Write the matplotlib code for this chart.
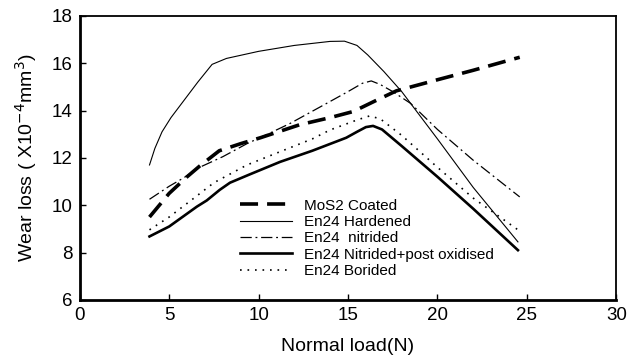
import matplotlib.pyplot as plt

plt.rcParams['font.family'] = ['Liberation Sans', 'DejaVu Sans']

# Data
x_mos2 = [3.9, 5.0, 6.0, 6.7, 7.8, 9.0, 10.1, 12.3, 14.0, 15.3, 16.5, 17.7, 20, 22, 24.6]
y_mos2 = [9.5, 10.5, 11.2, 11.65, 12.3, 12.6, 12.85, 13.4, 13.7, 13.96, 14.4, 14.83, 15.3, 15.7, 16.25]

x_hard = [3.9, 4.2, 4.6, 5.1, 5.8, 6.6, 7.4, 8.2, 10, 12, 14, 14.8, 15.5, 16.1, 17, 18, 20, 22, 24.5]
y_hard = [11.7, 12.4, 13.1, 13.7, 14.4, 15.2, 15.95, 16.2, 16.5, 16.75, 16.92, 16.93, 16.75, 16.35, 15.65, 14.8, 12.8, 10.75, 8.45]

x_nit = [3.9, 5.0, 5.8, 6.7, 8.0, 9.35, 10.5, 11.75, 13.8, 15.0, 15.8, 16.3, 16.8, 17.5, 18.5, 20, 22, 24.6]
y_nit = [10.25, 10.8, 11.15, 11.6, 12.05, 12.6, 13.0, 13.45, 14.3, 14.8, 15.15, 15.25, 15.1, 14.8, 14.3, 13.2, 11.9, 10.35]

x_npo = [3.9, 5.0, 6.55, 7.1, 7.83, 8.4, 9.5, 11.2, 13, 14.9, 15.5, 16.0, 16.4, 16.9, 18, 20, 22, 24.5]
y_npo = [8.68, 9.1, 9.94, 10.2, 10.65, 10.95, 11.3, 11.83, 12.3, 12.85, 13.1, 13.3, 13.35, 13.2, 12.5, 11.2, 9.85, 8.1]

x_bor = [3.9, 5.0, 6.3, 7.5, 9.35, 11, 13, 14, 15.5, 16.2, 16.8, 18, 20, 22, 24.5]
y_bor = [8.96, 9.5, 10.25, 10.95, 11.7, 12.2, 12.8, 13.18, 13.6, 13.77, 13.65, 12.95, 11.6, 10.3, 8.96]

fig = plt.figure(figsize=(6.38, 3.6), dpi=100)
ax = fig.add_axes([0.125, 0.167, 0.841, 0.789])

ax.plot(x_mos2, y_mos2, color='black', lw=2.6, dashes=(5, 2.5), label='MoS2 Coated')
ax.plot(x_hard, y_hard, color='black', lw=0.8, label='En24 Hardened')
ax.plot(x_nit, y_nit, color='black', lw=0.9, dashes=(9, 3, 1.5, 3), label='En24  nitrided')
ax.plot(x_npo, y_npo, color='black', lw=1.9, label='En24 Nitrided+post oxidised')
ax.plot(x_bor, y_bor, color='black', lw=1.2, dashes=(1, 3.5), label='En24 Borided')

ax.set_xlim(0, 30)
ax.set_ylim(6, 18)
ax.set_xticks([0, 5, 10, 15, 20, 25, 30])
ax.set_yticks([6, 8, 10, 12, 14, 16, 18])
ax.tick_params(direction='in', length=4, width=1, labelsize=13.5, pad=5)

for s in ['left', 'bottom']:
    ax.spines[s].set_linewidth(2)
for s in ['top', 'right']:
    ax.spines[s].set_linewidth(1.3)

ax.set_xlabel('Normal load(N)', fontsize=14, labelpad=10)
ax.set_ylabel(r'Wear loss ( X10$^{-4}$mm$^{3}$)', fontsize=14, labelpad=9)

ax.legend(loc='upper left', bbox_to_anchor=(0.298, 0.356), frameon=False, fontsize=11,
          handlelength=3.4, labelspacing=0.15, handletextpad=0.8, borderpad=0.0,
          borderaxespad=0.0)

fig.savefig('out.png', dpi=100)
